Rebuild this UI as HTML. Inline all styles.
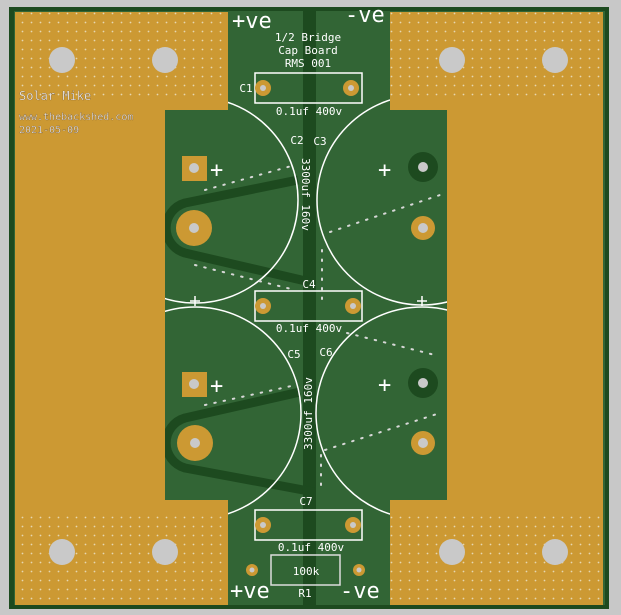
<!DOCTYPE html>
<html><head><meta charset="utf-8"><style>
html,body{margin:0;padding:0;background:#c8c8c8}
svg{display:block}
text{font-family:"DejaVu Sans Mono","Liberation Mono",monospace;fill:#fff}
</style></head><body>
<svg width="621" height="615" viewBox="0 0 621 615" xmlns="http://www.w3.org/2000/svg">
<defs>
<pattern id="dots" x="0" y="0" width="9" height="9" patternUnits="userSpaceOnUse">
<rect width="9" height="9" fill="#cc9933"/><circle cx="4.5" cy="4.5" r="0.9" fill="#e6d7b0"/></pattern>
</defs>
<rect width="621" height="615" fill="#c8c8c8"/>
<rect x="9" y="7" width="600" height="602" fill="#1d4a1f"/>
<rect x="14" y="11" width="591" height="594" fill="#326535"/>
<rect x="303" y="11" width="13" height="594" fill="#1d4a1f"/>
<!-- traces -->
<g fill="none" stroke="#1d4a1f" stroke-width="9" stroke-linejoin="round">
<path d="M298 180L185 203A26 26 0 0 0 185 253L310 282"/>
<path d="M300 392L185 418A26 26 0 0 0 185 468L314 492"/>
</g>
<!-- circles (under copper) -->
<g fill="none" stroke="#fff" stroke-width="1.5">
<circle cx="195" cy="200" r="103"/><circle cx="422" cy="200" r="105"/>
<circle cx="195" cy="413" r="106"/><circle cx="422" cy="413" r="106"/>
</g>
<!-- copper -->
<path d="M15 12H228V110H165V500H228V605H15Z" fill="#cc9933"/>
<rect x="15" y="12" width="213" height="84" fill="url(#dots)"/>
<rect x="15" y="510" width="213" height="95" fill="url(#dots)"/>
<path d="M390 12H603V605H390V500H447V110H390Z" fill="#cc9933"/>
<rect x="390" y="12" width="213" height="84" fill="url(#dots)"/>
<rect x="390" y="510" width="213" height="95" fill="url(#dots)"/>
<g fill="#c9c9c9">
<circle cx="62" cy="60" r="13"/><circle cx="165" cy="60" r="13"/>
<circle cx="452" cy="60" r="13"/><circle cx="555" cy="60" r="13"/>
<circle cx="62" cy="552" r="13"/><circle cx="165" cy="552" r="13"/>
<circle cx="452" cy="552" r="13"/><circle cx="555" cy="552" r="13"/>
</g>
<g fill="none" stroke="#fff" stroke-width="1.5">
<rect x="255" y="73" width="107" height="30"/><rect x="255" y="291" width="107" height="30"/>
<rect x="255" y="510" width="107" height="30"/>
<rect x="271" y="555" width="69" height="30" stroke="#ddd"/>
<path d="M195 296v10M190 301h10M422 296v10M417 301h10"/>
</g>
<!-- pads -->
<g fill="#cc9933">
<circle cx="263" cy="88" r="8"/><circle cx="351" cy="88" r="8"/>
<circle cx="263" cy="306" r="8"/><circle cx="353" cy="306" r="8"/>
<circle cx="263" cy="525" r="8"/><circle cx="353" cy="525" r="8"/>
<circle cx="252" cy="570" r="6"/><circle cx="359" cy="570" r="6"/>
<rect x="182" y="156" width="25" height="25"/><rect x="182" y="372" width="25" height="25"/>
<circle cx="194" cy="228" r="18"/><circle cx="195" cy="443" r="18"/>
<circle cx="423" cy="228" r="12"/><circle cx="423" cy="443" r="12"/>
</g>
<circle cx="423" cy="167" r="15" fill="#1d4a1f"/><circle cx="423" cy="383" r="15" fill="#1d4a1f"/>
<g fill="#c9c9c9">
<circle cx="263" cy="88" r="3"/><circle cx="351" cy="88" r="3"/>
<circle cx="263" cy="306" r="3"/><circle cx="353" cy="306" r="3"/>
<circle cx="263" cy="525" r="3"/><circle cx="353" cy="525" r="3"/>
<circle cx="252" cy="570" r="2.5"/><circle cx="359" cy="570" r="2.5"/>
<circle cx="194" cy="168" r="5"/><circle cx="194" cy="384" r="5"/>
<circle cx="194" cy="228" r="5"/><circle cx="195" cy="443" r="5"/>
<circle cx="423" cy="228" r="5"/><circle cx="423" cy="443" r="5"/>
<circle cx="423" cy="167" r="5"/><circle cx="423" cy="383" r="5"/>
</g>
<!-- dotted lines -->
<g stroke="#d8d8d8" stroke-width="2" stroke-dasharray="1.5 8" stroke-linecap="round" fill="none">
<path d="M205 190L295 165"/><path d="M195 265L295 290"/>
<path d="M330 232L440 195"/><path d="M322 250V300"/>
<path d="M205 405L296 385"/><path d="M325 450L440 413"/><path d="M321 455V490"/>
<path d="M347 333L435 355"/>
</g>
<!-- texts -->
<text x="232" y="28" font-size="22" font-family="Liberation Sans">+ve</text>
<text x="345" y="22" font-size="22" font-family="Liberation Sans">-ve</text>
<text x="230" y="598" font-size="22" font-family="Liberation Sans">+ve</text>
<text x="340" y="598" font-size="22" font-family="Liberation Sans">-ve</text>
<g font-size="11" text-anchor="middle">
<text x="308" y="41">1/2 Bridge</text><text x="308" y="54">Cap Board</text><text x="308" y="67">RMS 001</text>
<text x="309" y="115">0.1uf 400v</text><text x="309" y="332">0.1uf 400v</text><text x="311" y="551">0.1uf 400v</text>
<text x="306" y="575">100k</text><text x="305" y="597">R1</text>
<text x="246" y="92">C1</text><text x="297" y="144">C2</text><text x="320" y="145">C3</text>
<text x="309" y="288">C4</text><text x="294" y="358">C5</text><text x="326" y="356">C6</text><text x="306" y="505">C7</text>
</g>
<text font-size="11" transform="translate(302,158) rotate(90)">3300uf 160v</text>
<text font-size="11" transform="translate(312,450) rotate(-90)">3300uf 160v</text>
<g fill="#fff" font-size="22" font-family="Liberation Sans">
<text x="210" y="177">+</text><text x="378" y="177">+</text>
<text x="210" y="393">+</text><text x="378" y="392">+</text>
</g>
<g font-family="Liberation Sans" style="fill:#efe3cc;stroke:#6a5030;stroke-width:0.3">
<text x="19" y="100" font-size="12">Solar Mike</text>
<text x="19" y="120" font-size="10">www.thebackshed.com</text>
<text x="19" y="133" font-size="10">2021-05-09</text>
</g>
</svg>
</body></html>
